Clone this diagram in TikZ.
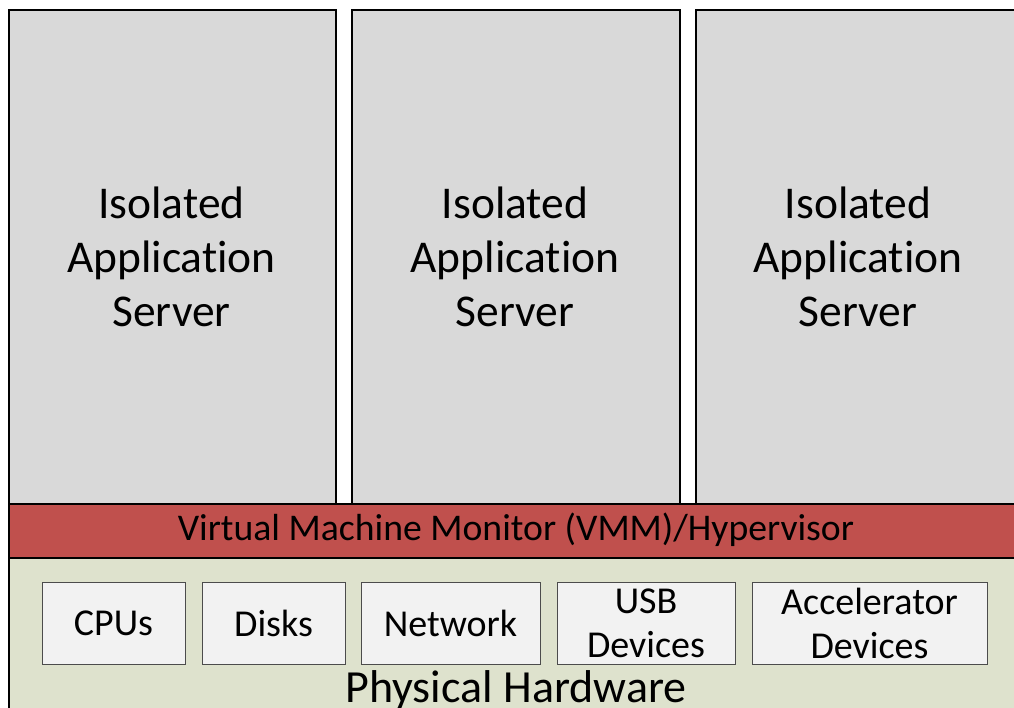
\documentclass[tikz,border=0pt]{standalone}
\usepackage{fontspec}
\setmainfont{Carlito}[Ligatures=NoCommon]
\definecolor{appfill}{HTML}{D9D9D9}
\definecolor{vmmred}{HTML}{C0504D}
\definecolor{hwfill}{HTML}{DEE2CD}
\definecolor{devfill}{HTML}{F2F2F2}
\tikzset{
  appbox/.style={draw=black, line width=2pt, fill=appfill},
  devbox/.style={draw=black!70, line width=0.8pt, fill=devfill, align=center, font=\fontsize{38}{44}\selectfont, inner sep=0pt},
  bigtext/.style={align=center, font=\fontsize{45.5}{54}\selectfont},
}
\begin{document}
\begin{tikzpicture}[x=1pt,y=-1pt]
\useasboundingbox (0,0) rectangle (1014,708);
\clip (0,0) rectangle (1014,708);
% app servers
\node[appbox, minimum width=327pt, minimum height=494pt, anchor=north west] (app1) at (8,9) {};
\node[appbox, minimum width=328pt, minimum height=494pt, anchor=north west] (app2) at (351,9) {};
\node[appbox, minimum width=340pt, minimum height=494pt, anchor=north west] (app3) at (695,9) {};
\node[bigtext] (t1) at (171.5,257) {Isolated\\Application\\Server};
\node[bigtext] (t2) at (515,257) {Isolated\\Application\\Server};
\node[bigtext] (t3) at (858,257) {Isolated\\Application\\Server};
% hardware
\node[draw=black, line width=2pt, fill=hwfill, minimum width=1020pt, minimum height=170pt, anchor=north west] (hw) at (8,557) {};
% vmm
\node[draw=black, line width=1.5pt, fill=vmmred, minimum width=1020pt, minimum height=54pt, anchor=north west] (vmm) at (8,503) {};
\node[font=\fontsize{37.7}{44}\selectfont] (vmmt) at (516,530) {Virtual Machine Monitor (VMM)/Hypervisor};
% devices
\node[devbox, minimum width=143pt, minimum height=82pt] (cpu) at (113.5,623) {CPUs};
\node[devbox, minimum width=143pt, minimum height=82pt] (disk) at (273.5,623) {Disks};
\node[devbox, minimum width=179pt, minimum height=82pt] (net) at (450.5,623) {Network};
\node[devbox, minimum width=178pt, minimum height=82pt] (usb) at (646,623) {USB\\Devices};
\node[devbox, minimum width=235pt, minimum height=82pt] (acc) at (869.5,623) {Accelerator\\Devices};
\node[font=\fontsize{46}{54}\selectfont] (hwt) at (516,690) {Physical Hardware};
\end{tikzpicture}
\end{document}
